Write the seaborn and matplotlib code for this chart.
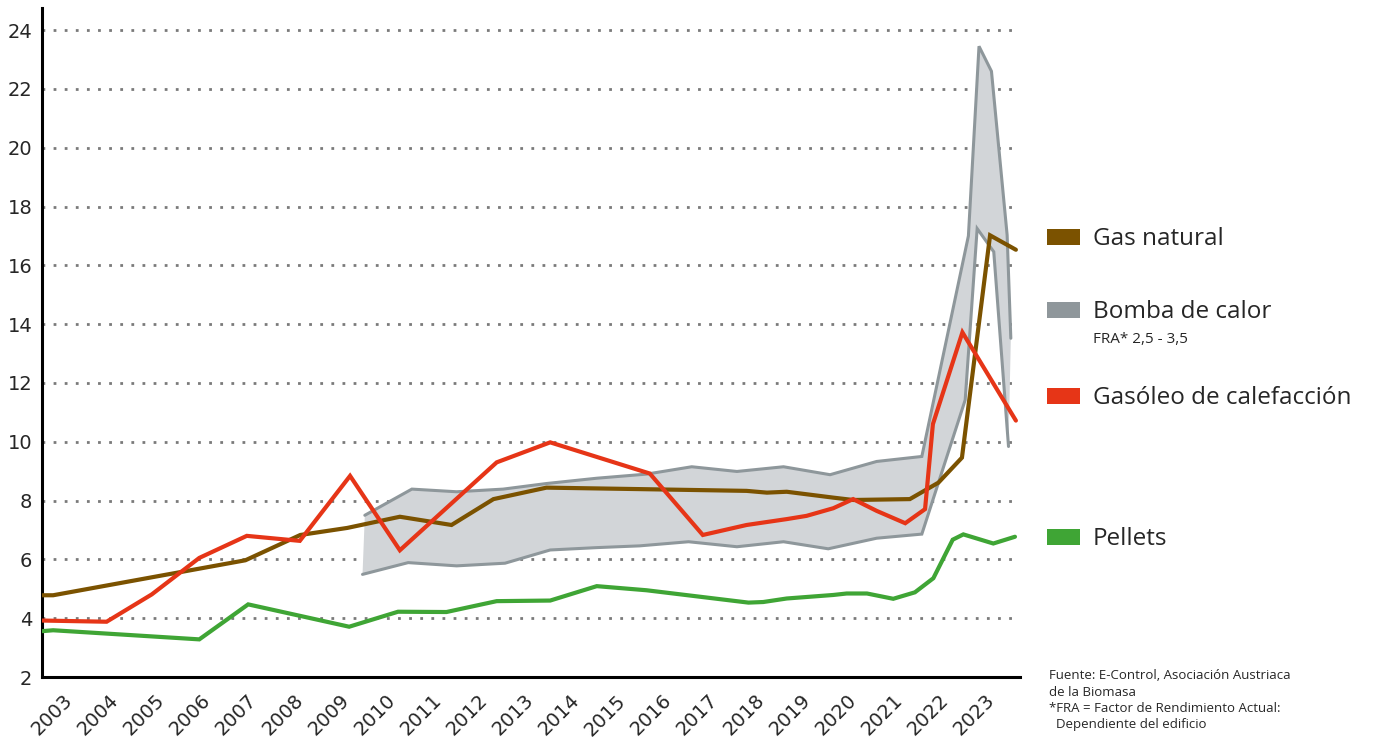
import numpy as np
import pandas as pd
import seaborn as sns
import matplotlib.pyplot as plt
from matplotlib.patches import Rectangle
from matplotlib.transforms import ScaledTranslation

# values (x in fractional years, y in cent/kWh)
gas_x = [2002.55, 2002.78, 2006.95, 2008.14, 2009.16, 2010.30, 2011.42, 2012.33, 2013.48, 2015.50,
         2017.82, 2018.26, 2018.69, 2019.70, 2020.13, 2021.36, 2021.98, 2022.49, 2023.10, 2023.66]
gas_y = [4.78, 4.78, 5.97, 6.83, 7.07, 7.45, 7.17, 8.05, 8.44, 8.39,
         8.33, 8.27, 8.30, 8.10, 8.02, 8.05, 8.61, 9.46, 17.02, 16.53]

oil_x = [2002.55, 2003.94, 2004.92, 2005.95, 2006.98, 2008.13, 2009.22, 2010.30, 2012.40, 2013.56,
         2015.72, 2016.87, 2017.82, 2018.69, 2019.12, 2019.70, 2020.13, 2020.64, 2021.26, 2021.69,
         2021.86, 2022.50, 2023.66]
oil_y = [3.92, 3.88, 4.81, 6.05, 6.80, 6.63, 8.84, 6.31, 9.30, 9.98,
         8.92, 6.83, 7.17, 7.37, 7.48, 7.74, 8.05, 7.65, 7.23, 7.71,
         10.60, 13.72, 10.72]

pel_x = [2002.55, 2002.78, 2005.95, 2007.01, 2009.20, 2010.26, 2011.31, 2012.40, 2013.56, 2014.57,
         2015.65, 2017.86, 2018.18, 2018.69, 2019.70, 2019.99, 2020.43, 2021.00, 2021.47, 2021.87,
         2022.29, 2022.52, 2023.17, 2023.64]
pel_y = [3.56, 3.59, 3.28, 4.47, 3.71, 4.22, 4.21, 4.58, 4.60, 5.09,
         4.95, 4.53, 4.55, 4.67, 4.79, 4.84, 4.84, 4.66, 4.88, 5.36,
         6.67, 6.85, 6.54, 6.77]

# heat pump band (FRA 2,5 - 3,5): upper and lower edge
hp_hi_x = [2009.54, 2010.56, 2011.53, 2012.54, 2013.48, 2014.57, 2015.65, 2016.63, 2017.61,
           2018.62, 2019.63, 2020.64, 2021.62, 2022.63, 2022.86, 2023.13, 2023.47, 2023.55]
hp_hi_y = [7.50, 8.39, 8.30, 8.39, 8.58, 8.76, 8.90, 9.15, 8.99,
           9.15, 8.88, 9.33, 9.50, 17.00, 23.45, 22.60, 17.03, 13.52]
hp_lo_x = [2009.49, 2010.48, 2011.53, 2012.58, 2013.56, 2014.57, 2015.50, 2016.56, 2017.61,
           2018.62, 2019.59, 2020.64, 2021.62, 2022.56, 2022.82, 2023.18, 2023.50]
hp_lo_y = [5.49, 5.89, 5.78, 5.87, 6.32, 6.40, 6.46, 6.60, 6.43,
           6.60, 6.36, 6.72, 6.86, 11.42, 17.25, 16.46, 9.84]

years = list(range(2003, 2024))
yticks = list(range(2, 25, 2))

legend_labels = ["Gas natural", "Bomba de calor", "Gasóleo de calefacción", "Pellets"]

C_GAS = "#7b5200"
C_HP_LINE = "#8e979b"
C_HP_FILL = "#d2d5d8"
C_OIL = "#e63517"
C_PEL = "#3fa535"

sns.set_theme(style="white")
plt.rcParams['font.family'] = ['DejaVu Sans']

fig = plt.figure(figsize=(13.79, 7.37), dpi=100)
ax = fig.add_axes([0.0305, 0.0814, 0.7092, 0.9077])

# dotted grid
for y in yticks[1:]:
    ax.axhline(y, color="#7a7a7a", lw=2.0, ls=(0, (1, 3)), dash_capstyle="butt", zorder=0.5)

# band
band_x = hp_hi_x + hp_lo_x[::-1]
band_y = hp_hi_y + hp_lo_y[::-1]
ax.fill(band_x, band_y, color=C_HP_FILL, lw=0, zorder=1)

def draw(x, y, color, lw, z):
    df = pd.DataFrame({"x": x, "y": y})
    sns.lineplot(data=df, x="x", y="y", ax=ax, color=color, lw=lw, sort=False,
                 estimator=None, zorder=z, solid_joinstyle="miter")

draw(hp_hi_x, hp_hi_y, C_HP_LINE, 2.2, 2)
draw(hp_lo_x, hp_lo_y, C_HP_LINE, 2.2, 2)
draw(gas_x, gas_y, C_GAS, 3.0, 3)
draw(oil_x, oil_y, C_OIL, 3.0, 4)
draw(pel_x, pel_y, C_PEL, 3.0, 5)

ax.set_xlim(2002.54, 2023.75)
ax.set_ylim(2, 24.75)
ax.set_xlabel("")
ax.set_ylabel("")
ax.set_yticks(yticks)
ax.set_yticklabels([str(v) for v in yticks], fontsize=14)
ax.tick_params(axis="y", length=0, pad=7)
ax.set_xticks(years)
ax.set_xticklabels([str(v) for v in years], fontsize=14, rotation=45, ha="right", va="top")
ax.tick_params(axis="x", direction="in", length=7, width=1.3, color="black", pad=10)
offset = ScaledTranslation(13 / 100, 0, fig.dpi_scale_trans)
for lab in ax.get_xticklabels():
    lab.set_transform(lab.get_transform() + offset)

for s in ["top", "right"]:
    ax.spines[s].set_visible(False)
for s in ["left", "bottom"]:
    ax.spines[s].set_color("black")
    ax.spines[s].set_linewidth(2.2)
ax.grid(False)

# legend on the right
leg_font = ["Open Sans", "DejaVu Sans"]
leg_colors = [C_GAS, "#8f979b", "#e63517", C_PEL]
leg_y = [0.6784, 0.5794, 0.4627, 0.2714]
for lab, col, yy in zip(legend_labels, leg_colors, leg_y):
    fig.patches.append(Rectangle((0.7593, yy - 0.0107), 0.0239, 0.0213, transform=fig.transFigure,
                                 color=col, lw=0))
    fig.text(0.7926, yy - 0.003, lab, fontsize=17.5, va="center", ha="left", family=leg_font)
fig.text(0.7926, 0.54, "FRA* 2,5 - 3,5", fontsize=11, va="center", ha="left", family=leg_font)

fig.text(0.7607, 0.05,
         "Fuente: E-Control, Asociación Austriaca\nde la Biomasa\n"
         "*FRA = Factor de Rendimiento Actual:\n  Dependiente del edificio",
         fontsize=9.5, va="center", ha="left", linespacing=1.32, family=leg_font)

fig.savefig("out.png", dpi=100)
